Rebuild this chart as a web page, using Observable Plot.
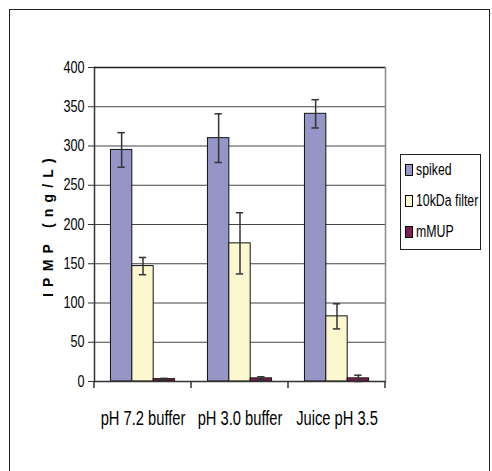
<!DOCTYPE html>
<html>
<head>
<meta charset="utf-8">
<script src="https://cdn.jsdelivr.net/npm/d3@7"></script>
<script src="https://cdn.jsdelivr.net/npm/@observablehq/plot@0.6"></script>
<style>
  html, body { margin: 0; padding: 0; background: #fff; }
  #wrap { position: relative; width: 492px; height: 471px; overflow: hidden; font-family: 'Liberation Sans', Arial, sans-serif; }
  #frame { position: absolute; left: 9px; top: 9px; width: 481px; height: 500px; border: 1.5px solid #222; box-sizing: border-box; }
  #chart { position: absolute; left: 0; top: 0; }
  #legend { position: absolute; left: 400px; top: 154px; width: 81px; height: 96px; border: 1px solid #222; box-sizing: border-box; background: #fff; font-size: 16px; color: #000; }
  .item { position: absolute; left: 4px; display: flex; align-items: center; white-space: nowrap; }
  .sw { width: 6px; height: 10px; border: 1px solid #000; margin-right: 3px; flex: none; }
  .lt { display: inline-block; transform: scaleX(0.77); transform-origin: left center; }
  g[aria-label="y-axis label"] text { font-family: 'Liberation Sans', Arial, sans-serif; font-weight: bold; font-size: 14px; letter-spacing: 6.2px; }
</style>
</head>
<body>
<div id="wrap">
  <div id="frame"></div>
  <div id="chart"></div>
  <div id="legend"></div>
</div>
<script>
const categories = ["pH 7.2 buffer", "pH 3.0 buffer", "Juice pH 3.5"];
const series = ["spiked", "10kDa filter", "mMUP"];
const spiked = [295, 310, 341];
const spikedErr = [22, 31, 18];
const filter10k = [147, 176, 83];
const filter10kErr = [11, 39, 16];
const mmup = [3, 4, 4];
const mmupErr = [1, 2, 4];
const yTicks = [0, 50, 100, 150, 200, 250, 300, 350, 400];
const colors = ["#9595C8", "#FBF8D0", "#7D2050"];

const values = [spiked, filter10k, mmup];
const errs = [spikedErr, filter10kErr, mmupErr];
const rows = [];
categories.forEach((c, i) => series.forEach((s, j) => rows.push({category: c, series: s, value: values[j][i], err: errs[j][i]})));

const chart = Plot.plot({
  width: 492,
  height: 471,
  marginLeft: 94,
  marginRight: 107,
  marginTop: 67,
  marginBottom: 90,
  style: {fontFamily: "'Liberation Sans', Arial, sans-serif", fontSize: "16px", color: "#000", background: "transparent"},
  fx: {domain: categories, padding: 0, label: null, axis: null},
  x: {domain: series, paddingInner: 0, paddingOuter: 0.77, round: false, axis: null},
  y: {domain: [0, 400], label: null, axis: null},
  color: {domain: series, range: colors},
  marks: [
    Plot.gridY(yTicks.slice(1, -1), {stroke: "#444", strokeOpacity: 1, strokeWidth: 1}),
    Plot.ruleY([400], {stroke: "#222", strokeWidth: 1.5}),
    Plot.frame({anchor: "right", facetAnchor: "right", stroke: "#888", strokeWidth: 1.5}),
    Plot.barY(rows, {fx: "category", x: "series", y: "value", fill: "series", stroke: "#111", strokeWidth: 1}),
    Plot.ruleX(rows, {fx: "category", x: "series", y1: d => d.value - d.err, y2: d => d.value + d.err, stroke: "#333", strokeWidth: 1.5}),
    Plot.tickY(rows, {fx: "category", x: "series", y: d => d.value + d.err, stroke: "#333", strokeWidth: 1.5, insetLeft: 7, insetRight: 7}),
    Plot.tickY(rows, {fx: "category", x: "series", y: d => d.value - d.err, stroke: "#333", strokeWidth: 1.5, insetLeft: 7, insetRight: 7}),
    Plot.ruleY([0], {stroke: "#333", strokeWidth: 1.5}),
    Plot.frame({anchor: "left", facetAnchor: "left", stroke: "#333", strokeWidth: 1.5}),
    Plot.axisY({ticks: yTicks, tickSize: 6, tickPadding: 4, stroke: "#333", fontSize: 16, label: "IPMP (ng/L)", labelAnchor: "center", labelOffset: 51, labelArrow: false}),
    Plot.axisFx({anchor: "bottom", tickSize: 0, tickPadding: 29, fontSize: 20, label: null})
  ]
});
document.getElementById("chart").appendChild(chart);

// narrow the tick label glyphs (Arial Narrow look) without changing their height
function narrow(selector, factor) {
  d3.select(chart).selectAll(selector).each(function() {
    const t = this.getAttribute("transform") || "";
    const x = +(this.getAttribute("x") || 0);
    if (x) { this.setAttribute("x", x / factor); }
    this.setAttribute("transform", (t + " scale(" + factor + ",1)").trim());
  });
}
narrow('g[aria-label="y-axis tick label"] text', 0.79);
narrow('g[aria-label="fx-axis tick label"] text', 0.735);

// boundary ticks below the category axis, from the plot's own fx and y scales
const fxs = chart.scale("fx");
const ys = chart.scale("y");
const band = d3.scaleBand().domain(fxs.domain).range(fxs.range).paddingInner(fxs.paddingInner ?? 0).paddingOuter(fxs.paddingOuter ?? 0);
const y0 = ys.apply(0);
const edges = categories.map(c => band(c)).concat([band(categories[categories.length - 1]) + band.bandwidth()]);
d3.select(chart).append("g").attr("aria-label", "category boundaries")
  .selectAll("line").data(edges).join("line")
  .attr("x1", d => d).attr("x2", d => d)
  .attr("y1", y0).attr("y2", y0 + 7)
  .attr("stroke", "#333").attr("stroke-width", 1.5);

// legend
const legend = document.getElementById("legend");
const tops = [6, 37, 68];
series.forEach((s, i) => {
  const item = document.createElement("div");
  item.className = "item";
  item.style.top = tops[i] + "px";
  const sw = document.createElement("span");
  sw.className = "sw";
  sw.style.background = colors[i];
  const t = document.createElement("span");
  t.className = "lt";
  t.textContent = s;
  item.appendChild(sw);
  item.appendChild(t);
  legend.appendChild(item);
});
</script>
</body>
</html>
